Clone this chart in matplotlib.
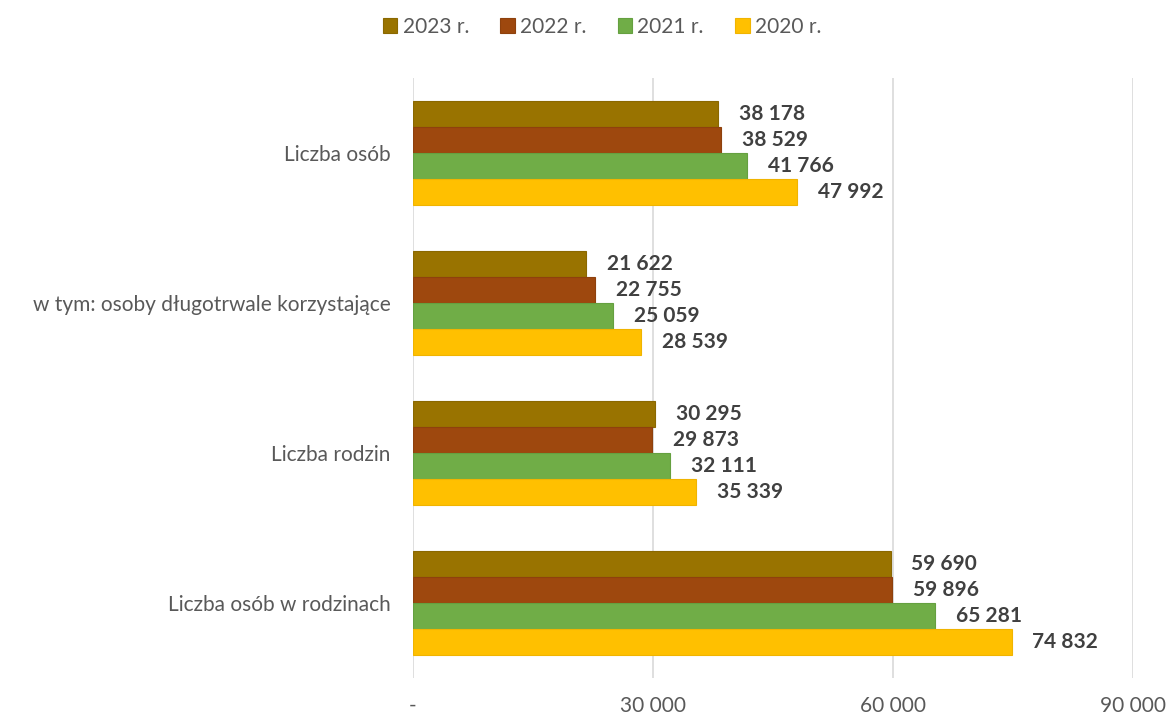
import matplotlib.pyplot as plt
import numpy as np

plt.rcParams['font.family'] = ['Lato', 'DejaVu Sans']

categories = ['Liczba osób', 'w tym: osoby długotrwale korzystające',
              'Liczba rodzin', 'Liczba osób w rodzinach']
series = ['2023 r.', '2022 r.', '2021 r.', '2020 r.']
values_2023 = [38178, 21622, 30295, 59690]
values_2022 = [38529, 22755, 29873, 59896]
values_2021 = [41766, 25059, 32111, 65281]
values_2020 = [47992, 28539, 35339, 74832]
colors = ['#997300', '#9E480E', '#70AD47', '#FFC000']
edges = ['#8a6800', '#8e410d', '#65a040', '#f0b400']

xticks = [0, 30000, 60000, 90000]
xtick_labels = ['-', '30 000', '60 000', '90 000']


def fmt(v):
    return f'{v:,}'.replace(',', ' ')


fig = plt.figure(figsize=(11.7, 7.16), dpi=100)
ax = fig.add_axes([413 / 1170, 38 / 716, 720 / 1170, 600 / 716])

y = np.arange(len(categories))
h = 0.173
all_vals = [values_2023, values_2022, values_2021, values_2020]
for i, (name, vals) in enumerate(zip(series, all_vals)):
    pos = y + (i - 1.5) * h
    ax.barh(pos, vals, height=h, color=colors[i], edgecolor=edges[i],
            linewidth=0.8, label=name, zorder=3)
    for p, v in zip(pos, vals):
        ax.annotate(fmt(v), (v, p), xytext=(15, 0), textcoords='offset points',
                    ha='left', va='center', fontsize=15, fontweight='bold',
                    color='#404040')

ax.set_xlim(0, 90000)
ax.set_ylim(3.5, -0.5)
ax.set_yticks(y)
ax.set_yticklabels(categories, fontsize=15, color='#595959')
ax.set_xticks(xticks)
ax.set_xticklabels(xtick_labels, fontsize=15, color='#595959')
ax.tick_params(axis='both', length=0)
ax.tick_params(axis='x', pad=13)
ax.tick_params(axis='y', pad=16)
ax.grid(axis='x', color='#d9d9d9', linewidth=1.2, zorder=0)
for s in ax.spines.values():
    s.set_visible(False)

fig.legend(loc='center', bbox_to_anchor=(602 / 1170, 1 - 27 / 716), ncol=4,
           frameon=False, fontsize=15, labelcolor='#595959',
           handlelength=0.7, handleheight=0.7, handletextpad=0.25,
           columnspacing=1.5)

fig.savefig('out.png', dpi=100)
